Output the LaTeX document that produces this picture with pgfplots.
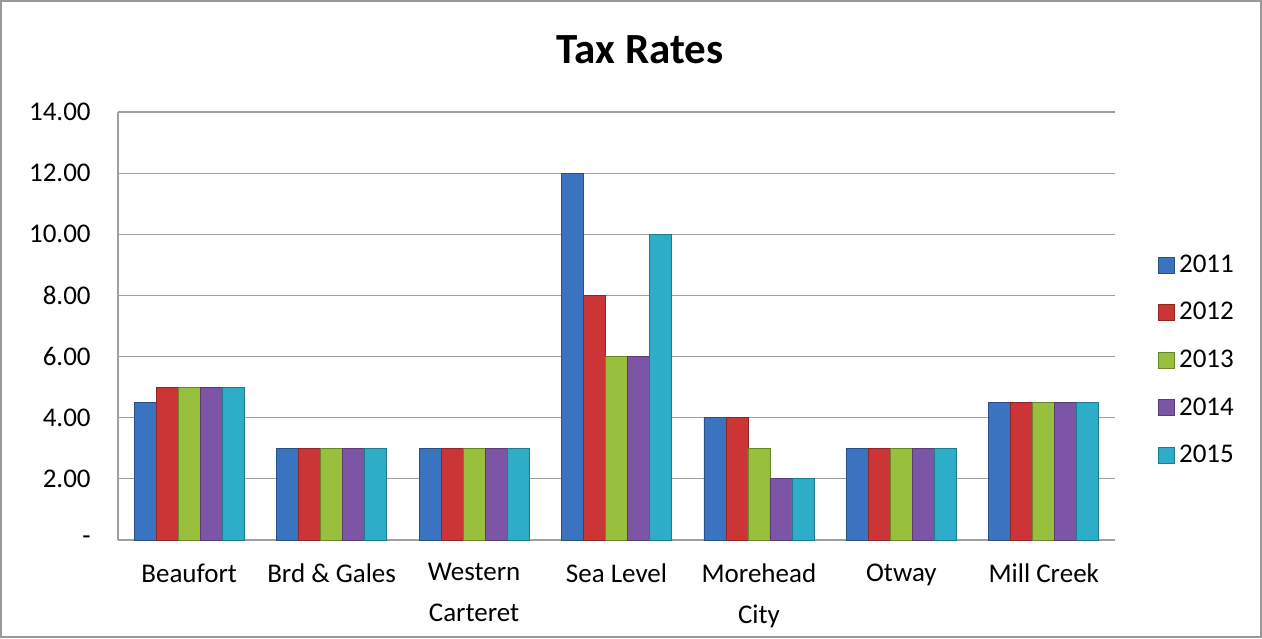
\documentclass[border=0pt]{standalone}
\usepackage{fontspec}
\setmainfont{Carlito}
\usepackage{pgfplots}
\pgfplotsset{compat=1.18}
\definecolor{ca}{HTML}{3A73C0}
\definecolor{cb}{HTML}{CC3535}
\definecolor{cc}{HTML}{98C03C}
\definecolor{cd}{HTML}{7D55A6}
\definecolor{ce}{HTML}{2EADC8}
\tikzset{barsty/.style={draw=#1!70!black, line width=0.4pt, fill=#1}}
\begin{document}
\begin{tikzpicture}
\draw[gray!80, line width=1pt] (0.5pt,0.5pt) rectangle (630.5pt,318.5pt);
\node[font=\bfseries\fontsize{21.5}{26}\selectfont] at (320pt,294pt) {Tax Rates};
\begin{axis}[at={(59pt,49pt)}, anchor=south west, scale only axis,
  width=498.5pt, height=214pt,
  ymin=0, ymax=14, xmin=-0.5, xmax=6.5,
  ytick={0,2,...,14}, yticklabels={-,2.00,4.00,6.00,8.00,10.00,12.00,14.00},
  ymajorgrids, grid style={gray!75, line width=0.6pt},
  axis x line=bottom, axis y line=left, axis line style={-, gray!75, line width=0.8pt},
  xtick={0,...,6},
  xticklabels={Beaufort, Brd \& Gales, Western\\Carteret, Sea Level, Morehead\\City, Otway, Mill Creek},
  xticklabel style={align=center, font=\fontsize{13.5}{20.5}\selectfont, yshift=-4pt},
  yticklabel style={font=\fontsize{13.5}{16}\selectfont, xshift=-8pt},
  /pgf/number format/assume math mode=true,
  tick style={draw=none},
  ybar=0pt, bar width=11pt,
  legend style={at={(1.043,0.42)}, anchor=west, draw=none, inner sep=0pt, row sep=9.5pt,
    font=\fontsize{13.5}{16}\selectfont},
  legend cell align=left,
  legend image code/.code={\draw[#1] (0pt,-4pt) rectangle (8pt,4pt);},
]
\addplot[barsty=ca] coordinates {(0,4.5) (1,3) (2,3) (3,12) (4,4) (5,3) (6,4.5)};
\addplot[barsty=cb] coordinates {(0,5) (1,3) (2,3) (3,8) (4,4) (5,3) (6,4.5)};
\addplot[barsty=cc] coordinates {(0,5) (1,3) (2,3) (3,6) (4,3) (5,3) (6,4.5)};
\addplot[barsty=cd] coordinates {(0,5) (1,3) (2,3) (3,6) (4,2) (5,3) (6,4.5)};
\addplot[barsty=ce] coordinates {(0,5) (1,3) (2,3) (3,10) (4,2) (5,3) (6,4.5)};
\legend{2011,2012,2013,2014,2015}
\end{axis}
\end{tikzpicture}
\end{document}
